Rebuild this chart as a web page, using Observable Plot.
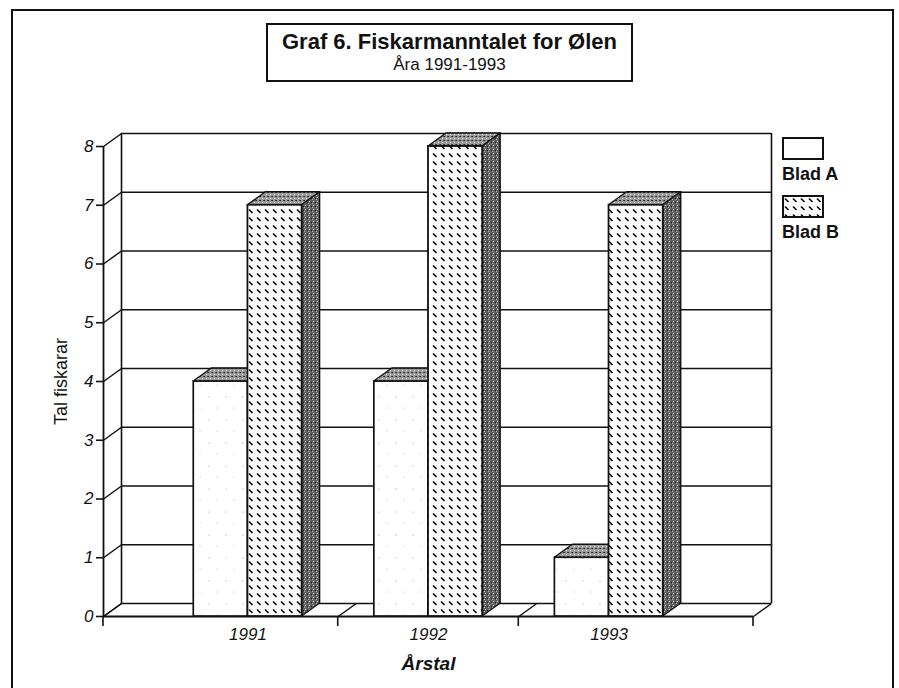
<!DOCTYPE html>
<html>
<head>
<meta charset="utf-8">
<script src="https://cdn.jsdelivr.net/npm/d3@7"></script>
<script src="https://cdn.jsdelivr.net/npm/@observablehq/plot@0.6"></script>
<style>
  html, body { margin: 0; padding: 0; background: #fff; }
  #wrap { position: relative; width: 899px; height: 688px; overflow: hidden; font-family: "Liberation Sans", Arial, sans-serif; }
  #outer { position: absolute; left: 11px; top: 9px; width: 883px; height: 700px; border: 2px solid #111; box-sizing: border-box; }
  #titlebox { position: absolute; left: 266px; top: 23px; width: 367px; height: 59px; border: 2px solid #111; box-sizing: border-box; background: #fff; text-align: center; color: #111; }
  #titlebox .t { font-weight: bold; font-size: 22px; line-height: 25px; margin-top: 4px; }
  #titlebox .s { font-size: 17px; line-height: 21px; }
  #chart { position: absolute; left: 0; top: 0; }
  #legend { position: absolute; left: 782px; top: 137px; color: #111; font-weight: bold; font-size: 18px; }
  #legend .sw { width: 42px; height: 23px; border: 2px solid #111; box-sizing: border-box; background: #fff; }
  #legend .lab { margin: 3px 0 10px 0; line-height: 22px; }
</style>
</head>
<body>
<svg width="0" height="0" style="position:absolute">
  <defs>
    <pattern id="dashB" width="8" height="8" patternUnits="userSpaceOnUse">
      <rect width="8" height="8" fill="#fff"/>
      <line x1="1" y1="1.5" x2="4.5" y2="5" stroke="#111" stroke-width="1.7"/>
      <line x1="5" y1="5.5" x2="5.4" y2="5.9" stroke="#fff" stroke-width="0.1"/>
    </pattern>
    <pattern id="dotsA" width="17" height="23" patternUnits="userSpaceOnUse">
      <rect width="17" height="23" fill="#fff"/>
      <circle cx="5" cy="6" r="0.6" fill="#999"/>
      <circle cx="13" cy="17" r="0.5" fill="#aaa"/>
    </pattern>
    <pattern id="stipTop" width="4" height="4" patternUnits="userSpaceOnUse">
      <rect width="4" height="4" fill="#9a9a9a"/>
      <rect x="0" y="0" width="1" height="1" fill="#222"/>
      <rect x="2" y="2" width="1" height="1" fill="#fff"/>
      <rect x="3" y="0" width="1" height="1" fill="#444"/>
    </pattern>
    <pattern id="stipSide" width="4" height="4" patternUnits="userSpaceOnUse">
      <rect width="4" height="4" fill="#5e5e5e"/>
      <rect x="1" y="1" width="1" height="1" fill="#ddd"/>
      <rect x="3" y="2" width="1" height="1" fill="#111"/>
      <rect x="0" y="3" width="1" height="1" fill="#bbb"/>
    </pattern>
  </defs>
</svg>
<div id="wrap">
  <div id="outer"></div>
  <div id="chart"></div>
  <div id="titlebox"><div class="t">Graf 6. Fiskarmanntalet for Ølen</div><div class="s">Åra 1991-1993</div></div>
  <div id="legend"></div>
</div>
<script>
// ---- data ----
const years = ["1991", "1992", "1993"];
const bladA = [4, 4, 1];
const bladB = [7, 8, 7];
const yTicks = [0, 1, 2, 3, 4, 5, 6, 7, 8];
const seriesNames = ["Blad A", "Blad B"];

// ---- layout ----
const W = 899, H = 688;
const mL = 103, mR = 146, mT = 146, mB = 72;
const xDomain = [-0.8, 2.8];
const yDomain = [0, 8];
const depthPx = [18, -13];
const barW = 0.3;
const pxX = (W - mL - mR) / (xDomain[1] - xDomain[0]);
const pxY = (H - mT - mB) / (yDomain[1] - yDomain[0]);
const ddx = depthPx[0] / pxX;
const ddy = -depthPx[1] / pxY;

const idx = years.map((_, i) => i);
const boundaries = [xDomain[0], ...idx.slice(1).map(i => i - 0.5), xDomain[1]];

const bars = [];
idx.forEach(i => {
  bars.push({year: years[i], s: 0, x1: i - barW, x2: i, v: bladA[i]});
  bars.push({year: years[i], s: 1, x1: i, x2: i + barW, v: bladB[i]});
});
const tops = bars.flatMap((b, k) => [
  {k, s: b.s, y: b.v, x1: b.x1, x2: b.x2},
  {k, s: b.s, y: b.v + ddy, x1: b.x1 + ddx, x2: b.x2 + ddx}
]);
const sides = bars.filter(b => b.s === 1).flatMap((b, k) => [
  {k, x: b.x2, y1: 0, y2: b.v},
  {k, x: b.x2 + ddx, y1: ddy, y2: b.v + ddy}
]);
const barsA = bars.filter(b => b.s === 0), barsB = bars.filter(b => b.s === 1);

const ink = "#111";
const plot = Plot.plot({
  width: W, height: H,
  marginLeft: mL, marginRight: mR, marginTop: mT, marginBottom: mB,
  style: {fontFamily: "'Liberation Sans', Arial, sans-serif", background: "transparent", overflow: "visible"},
  x: {domain: xDomain, axis: null},
  y: {domain: yDomain, axis: null},
  marks: [
    Plot.ruleY(yTicks, {y: d => d + ddy, x1: xDomain[0] + ddx, x2: xDomain[1] + ddx, stroke: ink, strokeWidth: 1.5}),
    Plot.ruleX([xDomain[0] + ddx, xDomain[1] + ddx], {y1: ddy, y2: yDomain[1] + ddy, stroke: ink, strokeWidth: 1.6}),
    Plot.link(yTicks, {x1: xDomain[0], y1: d => d, x2: xDomain[0] + ddx, y2: d => d + ddy, stroke: ink, strokeWidth: 1.5}),
    Plot.link(boundaries, {x1: d => d, y1: 0, x2: d => d + ddx, y2: ddy, stroke: ink, strokeWidth: 1.5}),
    Plot.ruleY([0], {x1: xDomain[0], x2: xDomain[1], stroke: ink, strokeWidth: 1.8}),
    Plot.ruleX([xDomain[0]], {y1: 0, y2: yDomain[1], stroke: ink, strokeWidth: 1.8}),
    Plot.rect(barsA, {x1: "x1", x2: "x2", y1: 0, y2: "v", fill: "url(#dotsA)", stroke: ink, strokeWidth: 1.7}),
    Plot.areaX(tops.filter(t => t.s === 0), {y: "y", x1: "x1", x2: "x2", z: "k", fill: "url(#stipTop)", stroke: ink, strokeWidth: 1.4}),
    Plot.areaX(tops.filter(t => t.s === 1), {y: "y", x1: "x1", x2: "x2", z: "k", fill: "url(#stipTop)", stroke: ink, strokeWidth: 1.4}),
    Plot.areaY(sides, {x: "x", y1: "y1", y2: "y2", z: "k", fill: "url(#stipSide)", stroke: ink, strokeWidth: 1.4}),
    Plot.rect(barsB, {x1: "x1", x2: "x2", y1: 0, y2: "v", fill: "url(#dashB)", stroke: ink, strokeWidth: 1.8}),
    Plot.axisY(yTicks, {anchor: "left", tickSize: 7, tickPadding: 3, tickFormat: d => String(d), fontSize: 17, fontStyle: "italic", stroke: ink, fill: ink, strokeWidth: 1.6}),
    Plot.text(idx, {x: d => d, y: 0, dy: 18, text: d => years[d], fontSize: 17, fontStyle: "italic", fill: ink}),
    Plot.text(["Årstal"], {x: 1, y: 0, dy: 47, text: d => d, fontSize: 19, fontWeight: "bold", fontStyle: "italic", fill: ink}),
    Plot.text(["Tal fiskarar"], {x: xDomain[0], y: 4, dx: -42, rotate: -90, text: d => d, fontSize: 18, fill: ink})
  ]
});
document.getElementById("chart").appendChild(plot);

const xs = plot.scale("x"), ys = plot.scale("y");
d3.select(plot).append("g").selectAll("line").data(boundaries).join("line")
  .attr("x1", d => xs.apply(d)).attr("x2", d => xs.apply(d))
  .attr("y1", ys.apply(0)).attr("y2", ys.apply(0) + 10)
  .attr("stroke", ink).attr("stroke-width", 1.6);

const leg = document.getElementById("legend");
seriesNames.forEach((n, i) => {
  const sw = document.createElement("div");
  sw.className = "sw";
  if (i === 1) sw.innerHTML = '<svg width="38" height="19" style="display:block"><rect width="38" height="19" fill="url(#dashB)"/></svg>';
  const lab = document.createElement("div");
  lab.className = "lab";
  lab.textContent = n;
  leg.appendChild(sw); leg.appendChild(lab);
});
</script>
</body>
</html>
